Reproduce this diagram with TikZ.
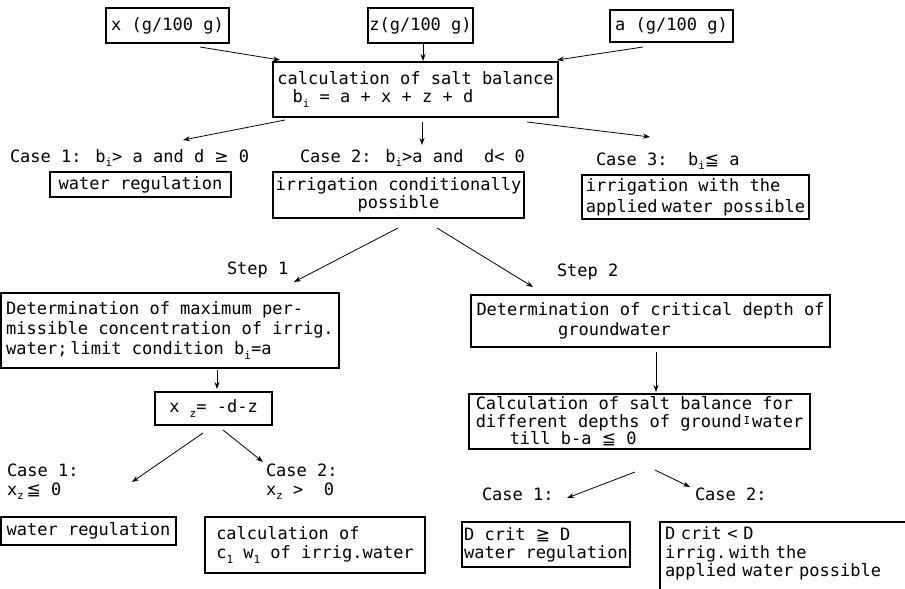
\documentclass[tikz,border=0pt]{standalone}
\usepackage{fontspec}
\setmainfont{DejaVu Sans Mono}
\newfontfamily\symf{DejaVu Sans}
\usetikzlibrary{arrows.meta,calc}
\newcommand\sbs[1]{\raisebox{-0.45ex}{\fontsize{11}{11}\selectfont #1}}
\newcommand\myleqq{{\symf ≦}}
\newcommand\mygeqq{{\symf ≧}}
\newcommand\mygeq{{\symf ≥}}
\begin{document}
\begin{tikzpicture}[x=1pt,y=-1pt,
  font=\fontsize{17}{19}\selectfont,
  box/.style={draw,line width=1.2pt,inner xsep=4pt,inner ysep=0pt,outer sep=0pt},
  lbl/.style={inner sep=0pt,outer sep=0pt,anchor=base west},
  mlbl/.style={inner sep=0pt,outer sep=0pt,anchor=north west,align=left},
  arr/.style={-{Stealth[length=7pt,width=5pt]},line width=0.8pt}]
\clip (0,0) rectangle (905,589);
\fill[white] (0,0) rectangle (905,589);

% top inputs
\node[box,minimum width=123pt,minimum height=35pt] (xbox) at (167.5,25.5) {x (g/100 g)};
\node[box,inner xsep=1pt,minimum width=105pt,minimum height=35pt] (zbox) at (420.5,25.5) {z(g/100 g)};
\node[box,minimum width=123pt,minimum height=32pt] (abox) at (671.5,26) {a (g/100 g)};

\node[box,align=left,minimum width=285pt,minimum height=55pt,font=\fontsize{17}{18}\selectfont] (calc) at (415.5,89.5)
  {calculation of salt balance\\\hspace*{0.9em}b\sbs{i} = a + x + z + d};

% case texts (top)
\node[lbl] (case1a) at (10,162) {Case 1: b\sbs{i}> a and d \mygeq{} 0};
\node[lbl] (case2a) at (300,162) {Case 2: b\sbs{i}>a and~~d< 0};
\node[lbl] (case3a) at (596,165) {Case 3:~~b\sbs{i}\myleqq{} a};

\node[box,minimum width=181pt,minimum height=25pt] (wr1) at (140.5,184.5) {water regulation};
\node[box,inner xsep=2pt,align=center,minimum width=251pt,minimum height=46pt,font=\fontsize{17}{18}\selectfont] (icp) at (398.5,195)
  {irrigation conditionally\\possible};
\node[box,inner xsep=2pt,align=left,minimum width=227pt,minimum height=44pt,font=\fontsize{17}{21}\selectfont] (iwa) at (695.5,197)
  {irrigation with the\\applied\hspace{0.25em}water possible};

% steps
\node[lbl] (step1) at (227,274) {Step 1};
\node[lbl] (step2) at (557,276) {Step 2};

\node[box,align=left,minimum width=338pt,minimum height=75pt,font=\fontsize{17}{20}\selectfont] (detmax) at (170,330.5)
  {Determination of maximum per-\\missible concentration of irrig.\\water;\,limit condition b\sbs{i}=a};
\node[box,align=left,minimum width=359pt,minimum height=52pt,font=\fontsize{17}{20}\selectfont] (detcrit) at (650.5,321)
  {Determination of critical depth of\\\hspace*{4.8em}groundwater};

\node[box,minimum width=117pt,minimum height=33pt] (xz) at (213.5,408.5) {x \sbs{z}= -d-z};
\node[box,align=left,minimum width=341pt,minimum height=55pt,font=\fontsize{17}{17.5}\selectfont] (calcsb) at (639.5,421.5)
  {Calculation of salt balance for\\different depths of ground\makebox[0.6em]{\raisebox{0.35ex}{\fontsize{11}{11}\selectfont I}}water\\\hspace*{2em}till b-a \myleqq{} 0};

% lower case texts
\node[mlbl] (case1b) at (7,464) {Case 1:\\x\sbs{z}\,\myleqq{} 0};
\node[mlbl] (case2b) at (266,464) {Case 2:\\x\sbs{z} >~~0};
\node[lbl] (case1c) at (482,500) {Case 1:};
\node[lbl] (case2c) at (695,500) {Case 2:};

% bottom boxes
\node[box,minimum width=175pt,minimum height=28pt] (wr2) at (88.5,531) {water regulation};
\node[box,align=left,minimum width=220pt,minimum height=56pt,font=\fontsize{17}{19}\selectfont] (calcof) at (315,545)
  {calculation of\\c\sbs{1} w\sbs{1} of irrig.water};
\node[box,inner xsep=2pt,align=left,minimum width=168pt,minimum height=45pt,font=\fontsize{17}{18}\selectfont] (dcrit1) at (546,544.5)
  {D crit \mygeqq{} D\\water regulation};
\node[inner xsep=5pt,inner ysep=5pt,outer sep=0pt,anchor=north west,text width=240pt,align=left,font=\fontsize{17}{18.5}\selectfont] (dcrit2) at (660,522)
  {D crit < D\\irrig.\,with the\\applied water possible};
\draw[line width=1.2pt] (dcrit2.north east) -- (dcrit2.north west) -- ($(dcrit2.south west)+(0,20)$);

% connectors
\draw[arr] ($(xbox.south)+(32.5,4)$) -- ($(calc.north west)+(7,-2)$);
\draw[arr] ($(zbox.south)+(2.5,0)$) -- ($(calc.north)+(7.5,-1)$);
\draw[arr] ($(abox.south)+(-28.5,5)$) -- ($(calc.north east)+(-1,-2)$);

\draw[arr] ($(calc.south west)+(12,3)$) -- ($(case1a.base west)+(173,-22)$);
\draw[arr] ($(calc.south)+(6.5,5)$) -- ($(case2a.base west)+(122,-17)$);
\draw[arr] ($(calc.south east)+(-31,5)$) -- ($(case3a.base west)+(54,-28)$);

\draw[arr] ($(icp.south)+(-0.5,10)$) -- ($(detmax.north east)+(-45,-11)$);
\draw[arr] ($(icp.south)+(38.5,10)$) -- ($(detcrit.north west)+(62,-8)$);

\draw[arr] ($(detmax.south)+(47,2)$) -- ($(xz.north)+(3.5,-3)$);
\draw[arr] ($(detcrit.south)+(5.5,5)$) -- ($(calcsb.north)+(16.5,-2)$);

\draw[arr] ($(xz.south)+(-10.5,8)$) -- ($(case1b.north west)+(125,18)$);
\draw[arr] ($(xz.south)+(9.5,5)$) -- ($(case2b.north west)+(-3,-2)$);

\draw[arr] ($(calcsb.south)+(-4.5,23)$) -- ($(case1c.base west)+(85,-2)$);
\draw[arr] ($(calcsb.south)+(15.5,21)$) -- ($(case2c.base west)+(-5,-13)$);
\end{tikzpicture}
\end{document}
